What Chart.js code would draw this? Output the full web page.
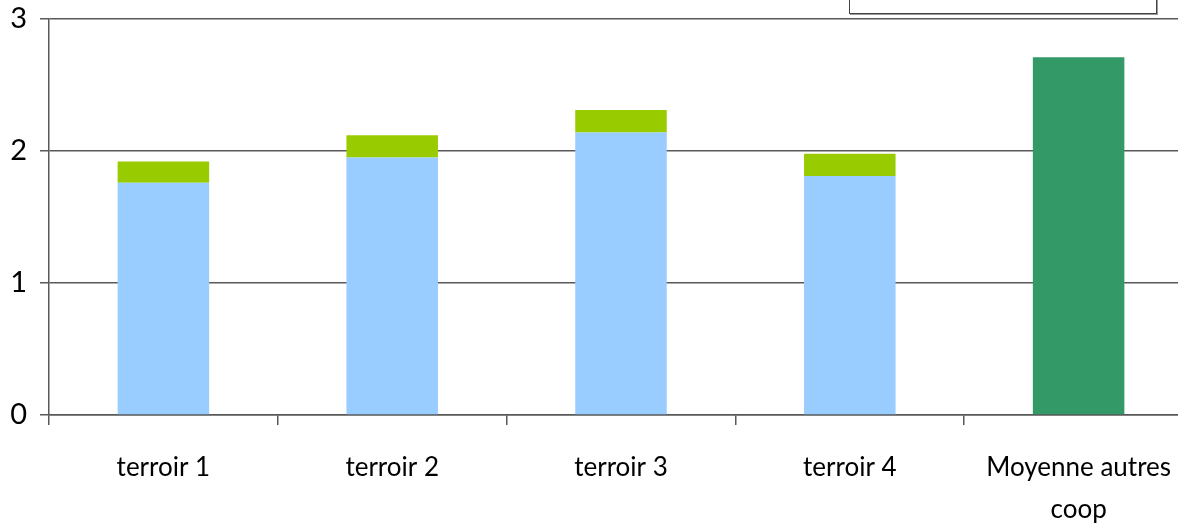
<!DOCTYPE html>
<html>
<head>
<meta charset="utf-8">
<title>terroirs</title>
<script src="https://cdn.jsdelivr.net/npm/chart.js@4"></script>
<style>
  html, body { margin: 0; padding: 0; background: #fff; overflow: hidden; }
  #wrap { position: relative; width: 1194px; height: 526px; }
  /* legend frame, top cut off */
  .legend_box {
    position: absolute;
    left: 849px; top: -30px;
    width: 306px; height: 42px;
    border: 1.5px solid #444;
    box-shadow: 1px 1px 0 #999;
    background: #fff;
  }
</style>
</head>
<body>
<div id="wrap">
  <canvas id="chart" width="1194" height="526"></canvas>
  <div class="legend_box"></div>
</div>
<script>
const categories = ['terroir 1', 'terroir 2', 'terroir 3', 'terroir 4', ['Moyenne autres', 'coop']]
const baseValues = [1.76, 1.95, 2.14, 1.81, null]
const topValues = [0.16, 0.17, 0.17, 0.17, null]
const otherCoopValues = [null, null, null, null, 2.71]
const yTicks = [0, 1, 2, 3]

const axisColor = '#595959'
const fontFamily = 'Lato, "Open Sans", sans-serif'

const ctx = document.getElementById('chart').getContext('2d')
new Chart(ctx, {
  type: 'bar',
  data: {
    labels: categories,
    datasets: [
      { data: baseValues, backgroundColor: '#99ccff' },
      { data: topValues, backgroundColor: '#99cc00' },
      { data: otherCoopValues, backgroundColor: '#339966' }
    ]
  },
  options: {
    responsive: false,
    animation: false,
    barPercentage: 0.4,
    categoryPercentage: 1,
    layout: { padding: { top: 19, right: 1, left: 0, bottom: 0 } },
    plugins: {
      legend: { display: false },
      tooltip: { enabled: false }
    },
    scales: {
      x: {
        stacked: true,
        border: { color: axisColor, width: 1.5 },
        grid: {
          offset: true,
          drawOnChartArea: false,
          drawTicks: true,
          tickLength: 10,
          color: axisColor,
          lineWidth: 1.5
        },
        ticks: {
          color: '#000',
          padding: 22,
          maxRotation: 0,
          autoSkip: false,
          font: { family: fontFamily, size: 26, lineHeight: 1.6 }
        },
        afterFit: function (scale) { scale.height = 111 }
      },
      y: {
        stacked: true,
        min: 0,
        max: 3,
        afterBuildTicks: function (scale) {
          scale.ticks = yTicks.map(v => ({ value: v }))
        },
        border: { color: axisColor, width: 1.5 },
        grid: {
          color: axisColor,
          lineWidth: 1.5,
          tickLength: 9
        },
        ticks: {
          color: '#000',
          padding: 13,
          font: { family: fontFamily, size: 29, lineHeight: 1.2 }
        },
        afterFit: function (scale) {
          scale.width = 49
          // top label may overflow into the layout padding
          scale.paddingTop = 0
          scale.paddingBottom = 0
        }
      }
    }
  }
})
</script>
</body>
</html>
